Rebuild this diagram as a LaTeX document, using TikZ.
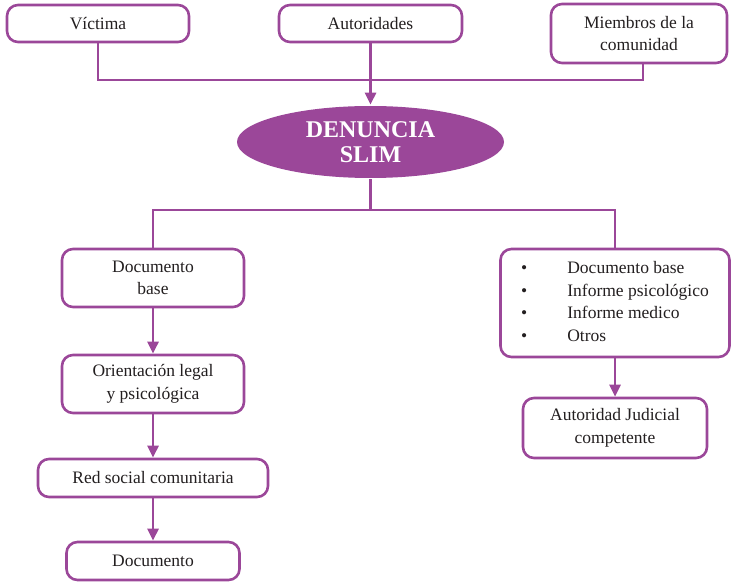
\documentclass[tikz,border=0pt]{standalone}
\usepackage{fontspec}
\setmainfont{Liberation Serif}
\usetikzlibrary{arrows.meta,shapes.geometric}
\definecolor{slimpurple}{HTML}{9B4799}
\definecolor{inkgray}{HTML}{231F20}

\begin{document}
\begin{tikzpicture}[x=1pt, y=-1pt, line width=2.6pt,
    main node/.style={draw=slimpurple, rounded corners=11pt, fill=white, inner sep=0pt,
                      align=center, text=inkgray, font=\fontsize{17.5}{22.5}\selectfont},
    oval node/.style={ellipse, fill=slimpurple, inner sep=0pt, align=center, text=white,
                      minimum width=267pt, minimum height=72pt,
                      font=\fontsize{24}{24.5}\selectfont\bfseries},
    link/.style={draw=slimpurple},
    arrow/.style={draw=slimpurple, -{Triangle[width=11pt,length=12pt]}}]

  \useasboundingbox (0,0) rectangle (731,583);

  \node[main node, minimum width=182pt, minimum height=37pt] (victima) at (98,23.5) {Víctima};
  \node[main node, minimum width=183pt, minimum height=37pt] (autoridades) at (370.5,23.5) {Autoridades};
  \node[main node, minimum width=176pt, minimum height=59pt] (miembros) at (639,33.5) {Miembros de la\\comunidad};

  \node[oval node] (denuncia) at (370.5,142) {DENUNCIA\\[1pt]SLIM};

  \node[main node, minimum width=182pt, minimum height=58pt] (docbase) at (153,278) {Documento\\base};
  \node[main node, minimum width=182pt, minimum height=58pt] (orientacion) at (153,384) {Orientación legal\\y psicológica};
  \node[main node, minimum width=230pt, minimum height=38pt] (redsocial) at (153,478) {Red social comunitaria};
  \node[main node, minimum width=173pt, minimum height=38pt] (documento) at (153,561) {Documento};

  \node[main node, minimum width=229pt, minimum height=108pt] (lista) at (615,303)
    {\begin{tabular}{@{}l@{\hspace{40pt}}l@{}}
       \textbullet & Documento base\\
       \textbullet & Informe psicológico\\
       \textbullet & Informe medico\\
       \textbullet & Otros
     \end{tabular}};
  \node[main node, minimum width=184pt, minimum height=60pt] (judicial) at (615,428) {Autoridad Judicial\\competente};

  \coordinate (union) at (370.5,80);
  \coordinate (reparto) at (370.5,210);

  \draw[link] (victima.south) |- (union) -| ([xshift=4pt]miembros.south);
  \draw[arrow] (autoridades.south) -- (denuncia.north);
  \draw[link] (denuncia.south) -- (reparto);
  \draw[link] (docbase.north) |- (reparto) -| (lista.north);

  \draw[arrow] (docbase) -- (orientacion);
  \draw[arrow] (orientacion) -- (redsocial);
  \draw[arrow] (redsocial) -- (documento);
  \draw[arrow] (lista) -- (judicial);

\end{tikzpicture}
\end{document}
